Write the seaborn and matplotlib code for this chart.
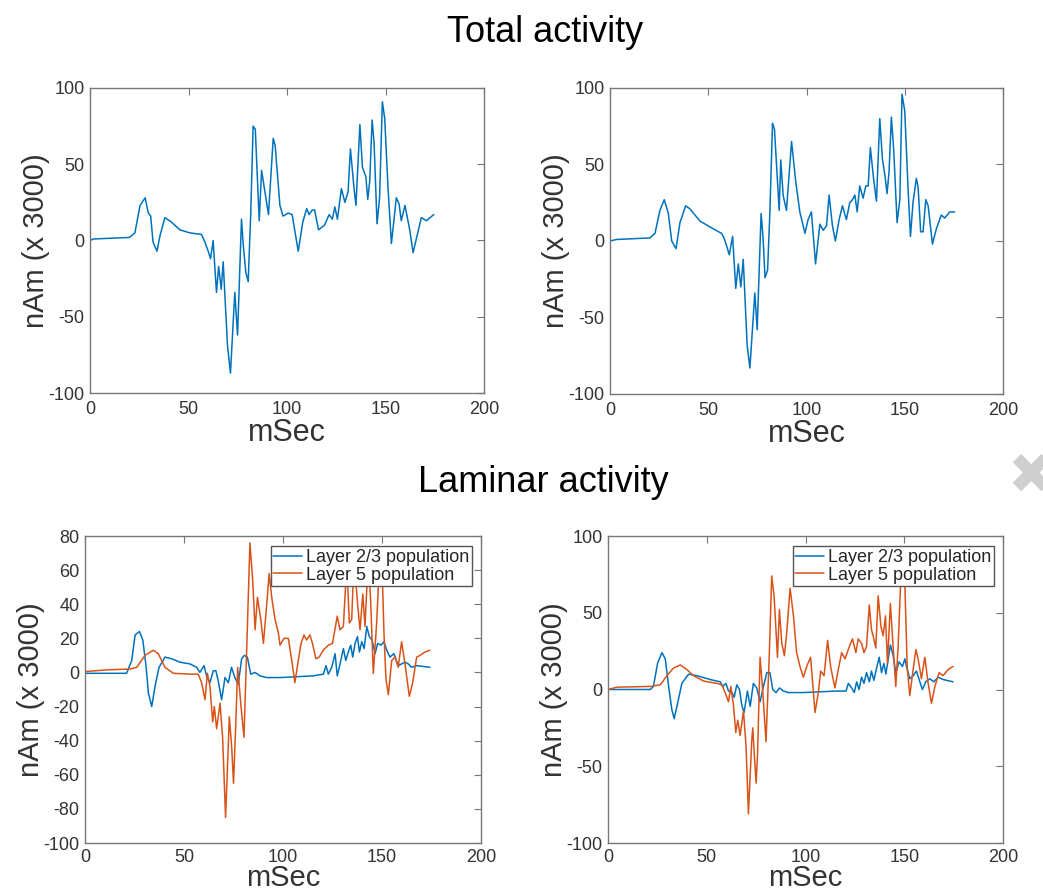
import seaborn as sns
import pandas as pd
from matplotlib import pyplot as plt

# Total activity, left panel (mSec, nAm x 3000)
total_left_t = [0, 1.7, 20, 22.8, 25.4, 28, 29.6, 30.8, 32, 34, 35.5, 38, 41.4, 45.6, 50.7, 56.6,
                58.3, 60, 61.2, 62.5, 64.2, 65.3, 66.6, 67.6, 69.8, 71.3, 73.5, 74.9, 76.9, 77.8,
                79.1, 80.3, 81.6, 82.8, 83.9, 85.9, 87.1, 88.3, 90.6, 93, 94, 96.4, 98, 100.6,
                102.6, 105.7, 108, 110, 111.2, 112.8, 114, 116, 119, 121.4, 123, 124.3, 125.6,
                127.6, 129.4, 131, 132.2, 133.9, 135, 137, 138.3, 140, 141, 142, 143.2, 144.2,
                145.7, 147, 148.4, 149.6, 151.3, 153, 155.5, 156.9, 158, 159.9, 162.3, 164, 166,
                168.2, 170.8, 174.5]
total_left_v = [0, 1, 2, 5, 23, 28, 18, 16, -1, -7, 3, 15, 12, 7, 5, 4,
                -1, -7, -12, 0, -34, -17, -32, -14, -69, -87, -34, -62, 14, -3,
                -21, -27, 18, 75, 73, 13, 46, 36, 17, 67, 62, 23, 16, 18,
                17, -7, 12, 21, 17, 20, 20, 7, 10, 17, 14, 22, 14,
                34, 25, 32, 60, 36, 23, 76, 48, 42, 27, 39, 79, 64,
                11, 28, 91, 80, 34, -2, 28, 24, 13, 23, 7, -8, 3,
                15, 13, 17]

# Total activity, right panel
total_right_t = [0, 3.4, 20.3, 22.9, 25.4, 27.6, 29.7, 31.4, 33.6, 35.6, 38.5, 40.7, 45.8, 52.5,
                 56.8, 58, 59.3, 60.7, 62.4, 64, 65.3, 66.6, 67.8, 69.8, 71.2, 73.7, 74.9, 76.9,
                 77.9, 78.9, 80.2, 81.4, 82.7, 83.7, 86.1, 86.9, 88.1, 89.8, 92.4, 94.6, 96.6,
                 98.3, 99.2, 100.8, 102.5, 104.6, 106.8, 108.5, 110.2, 111.5, 113.2, 114.7, 116.6,
                 118.3, 120.3, 122, 123.4, 124.6, 125.8, 127.1, 128.8, 130.2, 131.4, 132.5, 134.2,
                 135.6, 137.3, 138.6, 140, 141, 142, 143.2, 144.4, 146.1, 147.5, 148.6, 150, 151.7,
                 152.9, 154.2, 155.9, 156.8, 158.1, 159.3, 160.7, 161.9, 164.1, 166.1, 168.6, 170.3,
                 172.9, 175.4]
total_right_v = [0, 1, 2, 5, 20, 27, 18, 0, -5, 12, 23, 21, 13, 8,
                 5, 2, -3, -9, 3, -31, -15, -30, -12, -68, -83, -34, -58, 18,
                 2, -24, -19, 20, 77, 73, 20, 53, 30, 20, 65, 38, 19,
                 10, 5, 14, 19, -15, 11, 7, 10, 30, 10, 0, 14,
                 23, 14, 25, 27, 30, 19, 36, 28, 36, 36, 61, 40,
                 26, 80, 54, 42, 31, 45, 81, 59, 12, 27, 96, 85, 34,
                 3, 25, 41, 35, 6, 6, 27, 23, -2, 8, 17, 15,
                 19, 19]

# Laminar activity, left panel
lam_left_l23_t = [0, 21, 23.6, 25.3, 27.5, 29.2, 30.9, 32, 33.7, 35.4, 37.4, 40.4, 43.8, 48, 53,
                  56.4, 58, 60.1, 61.4, 63.1, 64.8, 66.1, 67.3, 69, 70.7, 72.4, 74, 75.7, 77.4,
                  79.1, 80.5, 82, 83.7, 85.9, 88.4, 91.8, 98.5, 115.3, 120.4, 121.7, 122.9, 124.6,
                  126.3, 127.4, 128.8, 130.5, 131.7, 133, 134.2, 135.2, 136.4, 137.6, 138.6, 139.8,
                  141, 142.3, 143.6, 145, 146.5, 147.8, 149.5, 151, 152.4, 154, 156, 158.2, 159.9,
                  161.6, 163.3, 164.9, 167.5, 174.2]
lam_left_l23_v = [-0.5, -0.5, 7, 22, 24, 19, 3, -12, -20, -8, 3, 9, 8, 6, 5,
                  3, 0, 4, -2, -6, 1, 1, -5, -16, -3, -6, 3, -3, -7,
                  8, 10, 9, -1, 0, -2, -3, -3, -2, -1, 4, -1, 3,
                  11, -2, 5, 14, 7, 12, 16, 9, 17, 21, 12, 18,
                  14, 27, 21, 19, 11, 17, 16, 18, 13, 9, 11, 4, 5,
                  6, 5, 3, 4, 3]
lam_left_l5_t = [0, 11, 22.7, 26.1, 30.3, 34.5, 37, 40.4, 44.6, 53, 57.2, 58.9, 60.6, 61.8, 63.1,
                 64.5, 65.3, 66.5, 68.2, 69.5, 71, 72.9, 74.1, 75, 76.1, 77.1, 78.8, 80.3, 81.6,
                 83.3, 84.7, 85.9, 87.1, 88.8, 90.1, 91.8, 93, 94.3, 96, 97.7, 98.5, 100.5, 102.7,
                 104.4, 106, 107.7, 109.1, 110.6, 111.9, 113.6, 114.9, 116.6, 118.3, 120.3, 122.9,
                 125, 127.4, 128.8, 130.5, 132.2, 133.5, 134.7, 135.9, 137.6, 138.9, 140.3, 141.4,
                 143.1, 144.3, 145.6, 147.3, 148.7, 149.8, 151, 152, 153.2, 154.9, 156.6, 158.2,
                 159.9, 161.6, 163.8, 165.5, 167.5, 169.2, 171.7, 174.2]
lam_left_l5_v = [0.5, 1.5, 2, 3, 10, 13, 11, 3, -0.5, -1, -1, -6, -16, -0.5, -8,
                 -29, -20, -33, -18, -38, -85, -26, -44, -65, -32, 3, -20, -38, 11,
                 76, 54, 25, 44, 31, 17, 40, 58, 44, 31, 23, 16, 20, 20,
                 7, -6, 7, 17, 22, 19, 22, 17, 8, 9, 13, 16,
                 17, 33, 25, 27, 64, 29, 31, 68, 41, 25, 46, 27,
                 68, 41, -0.5, 29, 64, 71, 23, -4, -13, 7, 9, 3,
                 18, 5, -14, -6, 9, 10, 12, 13]

# Laminar activity, right panel
lam_right_l23_t = [0, 21.4, 23, 25.1, 27.3, 29, 30.7, 32.3, 33.5, 34.9, 37.4, 40.8, 45, 51.7, 56.8,
                   58.1, 59.7, 61, 62.7, 63.9, 65.2, 66.6, 67.7, 68.9, 70.6, 72, 73.6, 75.3, 77,
                   78.7, 80.4, 82, 83.4, 85.1, 86.8, 88.8, 91.3, 98.9, 115.8, 120.5, 121.7, 123.4,
                   124.7, 125.9, 127.1, 128.4, 129.6, 130.9, 132.3, 133.4, 134.6, 136, 137.3, 138.5,
                   139.7, 140.7, 141.9, 143, 144.4, 145.7, 147.4, 149.1, 150.3, 151.5, 152.8, 154.5,
                   156.2, 157.9, 159.2, 160.9, 162.9, 165, 167.1, 169.7, 174.7]
lam_right_l23_v = [0, 0, 2, 17, 24, 20, 2, -13, -19, -11, 4, 10, 9, 6.5, 5,
                   2, 4, -1, -2, -5, 3, 0, -10, -15, -1, -11, 4, 1, -8,
                   2, 11, 11, 0, -2, 1, -1, -2, -2, -1, -1, 4, 1,
                   -2, 5, 0, 8, 4, 11, 5, 12, 6, 14, 21, 11,
                   17, 10, 20, 29, 22, 11, 18, 15, 20, 13, 7, 9,
                   12, 5, 0, 5, 7, 5, 8, 6.5, 5]
lam_right_l5_t = [0, 4.5, 21.4, 26.5, 29.8, 33.2, 36.6, 39.9, 43.3, 48.4, 55.1, 57.6, 59.3, 61, 62.2,
                  63.5, 64.7, 65.7, 66.9, 68.6, 69.9, 71.1, 72.8, 73.3, 74.1, 75, 75.8, 77, 78.4,
                  80, 81.6, 82.9, 84.1, 85.8, 86.8, 88, 89.3, 90.5, 92.2, 93.9, 95.5, 97.2, 98.9,
                  100.9, 102.6, 104.8, 106.5, 107.7, 109.4, 111.2, 112.7, 114.9, 116.6, 118.3, 120,
                  122.2, 123.8, 125.5, 126.7, 128.4, 129.6, 130.9, 132.3, 133.4, 134.6, 135.6, 136.8,
                  138.2, 139.3, 140.5, 141.5, 143, 144.1, 145.7, 146.9, 148.1, 149.1, 150.3, 151.5,
                  152.8, 154.5, 155.9, 157, 158.7, 160.4, 162.1, 163.8, 165.5, 167.7, 169.7, 172.2,
                  174.7]
lam_right_l5_v = [0, 1.5, 2, 3, 9, 14, 16, 13, 9, 5.5, 4, 3, -2, -8, 2,
                  -10, -28, -20, -30, -14, -37, -81, -33, -25, -43, -61, -39, 21, -2,
                  -34, 20, 74, 61, 21, 52, 30, 22, 37, 66, 48, 24, 15, 8,
                  16, 21, -15, -2, 12, 9, 32, 15, 1, 13, 24, 20,
                  28, 33, 24, 33, 30, 24, 28, 55, 39, 33, 27, 61,
                  41, 35, 48, 17, 56, 33, 2, 28, 67, 74, 69, 15,
                  -4, 13, 26, 20, 7, 21, 4, -9, 2, 11, 9, 13,
                  15]

x_ticks = [0, 50, 100, 150, 200]
y_ticks_wide = [-100, -50, 0, 50, 100]
y_ticks_lam_left = [-100, -80, -60, -40, -20, 0, 20, 40, 60, 80]

BLUE = '#0072BD'
ORANGE = '#D95319'

sns.set_theme(style="white")
plt.rcParams['font.family'] = ['Liberation Sans', 'DejaVu Sans']
plt.rcParams['axes.unicode_minus'] = False
plt.rcParams['lines.solid_joinstyle'] = 'round'

fig = plt.figure(figsize=(10.43, 8.96), dpi=100)
W, H = 1043, 896


def make_ax(x0, x1, y0, y1):
    return fig.add_axes([x0 / W, 1 - y1 / H, (x1 - x0) / W, (y1 - y0) / H])


axes = [make_ax(90, 484, 88, 393), make_ax(610, 1003, 88, 394),
        make_ax(85, 481, 536, 843), make_ax(608, 1003, 536, 843)]

sns.lineplot(x=total_left_t, y=total_left_v, ax=axes[0], color=BLUE, linewidth=1.1,
             estimator=None, sort=False)
sns.lineplot(x=total_right_t, y=total_right_v, ax=axes[1], color=BLUE, linewidth=1.1,
             estimator=None, sort=False)

lam = [(axes[2], lam_left_l23_t, lam_left_l23_v, lam_left_l5_t, lam_left_l5_v),
       (axes[3], lam_right_l23_t, lam_right_l23_v, lam_right_l5_t, lam_right_l5_v)]
for ax, t23, v23, t5, v5 in lam:
    df = pd.concat([
        pd.DataFrame({'t': t23, 'v': v23, 'pop': 'Layer 2/3 population'}),
        pd.DataFrame({'t': t5, 'v': v5, 'pop': 'Layer 5 population'}),
    ])
    sns.lineplot(data=df, x='t', y='v', hue='pop', palette=[BLUE, ORANGE], ax=ax,
                 linewidth=1.1, estimator=None, sort=False)
    ax.legend(loc='upper right', bbox_to_anchor=(0.977, 0.967), borderaxespad=0,
              fontsize=13, handlelength=1.6, handletextpad=0.2, labelspacing=0.05,
              borderpad=0.15, fancybox=False, framealpha=1, edgecolor='#555555',
              title=None)
    ax.get_legend().get_frame().set_linewidth(1.0)

yticks = [y_ticks_wide, y_ticks_wide, y_ticks_lam_left, y_ticks_wide]
ylims = [(-100, 100), (-100, 100), (-100, 80), (-100, 100)]
for i, (ax, yt, yl) in enumerate(zip(axes, yticks, ylims)):
    ax.set_xlim(0, 200)
    ax.set_ylim(*yl)
    ax.set_xticks(x_ticks)
    ax.set_yticks(yt)
    ax.tick_params(direction='in', length=5, width=0.8, colors='#777777', labelcolor='#333333',
                   labelsize=13, top=True, right=True)
    ax.tick_params(axis='x', pad=6 if i < 2 else 4)
    ax.tick_params(axis='y', pad=4)
    for s in ax.spines.values():
        s.set_color('#777777')
        s.set_linewidth(1.0)
    ax.set_xlabel('mSec', fontsize=22 if i < 2 else 21, color='#333333',
                  labelpad=0 if i < 2 else -1)
    ax.set_ylabel('nAm (x 3000)', fontsize=21, color='#333333', labelpad=-1)

narrow = ['Liberation Sans Narrow', 'Liberation Sans', 'DejaVu Sans']
fig.text(545 / W, 1 - 33 / H, 'Total activity', ha='center', va='center',
         fontsize=26, family=narrow, color='black')
fig.text(543 / W, 1 - 482 / H, 'Laminar activity', ha='center', va='center',
         fontsize=26, family=narrow, color='black')

# grey slide icon cut by the right edge
fig.text(1030 / W, 1 - 478 / H, '\u2716', ha='center', va='center', fontsize=40,
         color='#cfcfcf', family=['DejaVu Sans'])

fig.savefig('out.png', dpi=100)
